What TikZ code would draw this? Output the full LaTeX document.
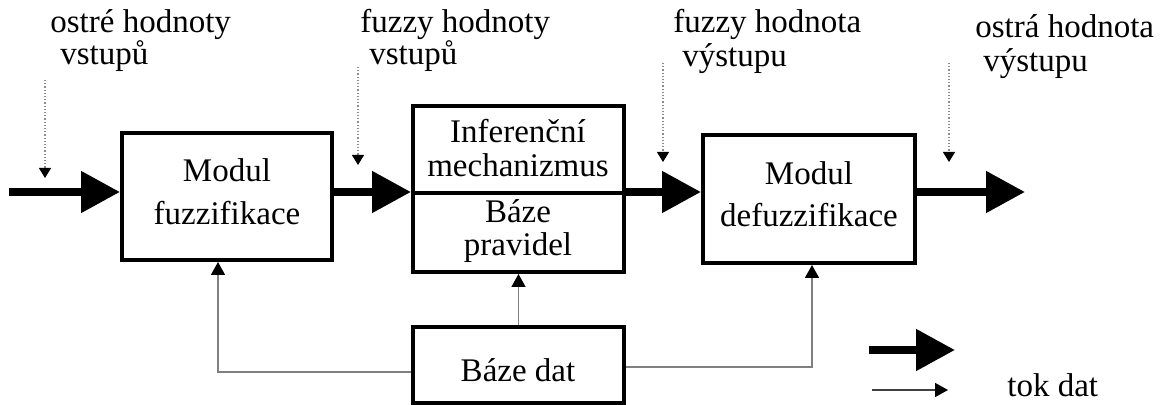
\documentclass[tikz,border=0pt]{standalone}
\usepackage{fontspec}
\setmainfont{Liberation Serif}
\usetikzlibrary{arrows.meta}
\begin{document}
\begin{tikzpicture}[x=0.5pt,y=-0.5pt,
  box/.style={draw, line width=2pt, inner sep=0pt},
  txt/.style={font=\fontsize{16.5}{19}\selectfont, inner sep=0pt, anchor=base},
  lbl/.style={font=\fontsize{16.5}{19}\selectfont, inner sep=0pt, anchor=base west},
  flow/.style={line width=4pt, -{Triangle[length=19.5pt,width=20pt]}},
  feed/.style={draw=black!50, line width=0.75pt, -{Triangle[length=6.5pt,width=7pt,color=black]}},
  hint/.style={draw=black!45, line width=0.6pt, dash pattern=on 0.6pt off 1pt,
               -{Triangle[length=5pt,width=6pt,color=black]}},
  legthin/.style={draw=black!75, line width=0.75pt, -{Triangle[length=6.5pt,width=7pt,color=black]}}
]
\useasboundingbox (0,0) rectangle (1175,405);

% processing blocks
\node[box, minimum width=105pt, minimum height=63.5pt] (fuz) at (227,196.5) {};
\node[box, minimum width=105.5pt, minimum height=43.5pt] (inf) at (518.5,149.5) {};
\node[box, minimum width=105.5pt, minimum height=39.5pt] (rules) at (518.5,232.5) {};
\node[box, minimum width=106pt, minimum height=64pt] (def) at (809,199) {};
\node[box, minimum width=105.5pt, minimum height=38pt] (db) at (518.5,365) {};

% block texts
\node[txt] (t1) at (227,182) {Modul};
\node[txt] (t2) at (227,225) {fuzzifikace};
\node[txt] (t3) at (518,143) {Inferenční};
\node[txt] (t4) at (518,177) {mechanizmus};
\node[txt] (t5) at (518,223) {Báze};
\node[txt] (t6) at (518,256) {pravidel};
\node[txt] (t7) at (809,185) {Modul};
\node[txt] (t8) at (809,227) {defuzzifikace};
\node[txt] (t9) at (518,382) {Báze dat};

% labels above the data path
\node[lbl] (l1) at (50,33) {ostré hodnoty};
\node[lbl] (l2) at (60,65) {vstupů};
\node[lbl] (l3) at (360,33) {fuzzy hodnoty};
\node[lbl] (l4) at (369,65) {vstupů};
\node[lbl] (l5) at (673,33) {fuzzy hodnota};
\node[lbl] (l6) at (682,67) {výstupu};
\node[lbl] (l7) at (975,38) {ostrá hodnota};
\node[lbl] (l8) at (983,72) {výstupu};

% main data flow
\coordinate (in) at (9,192);
\coordinate (out) at (1025,192);
\draw[flow] (in) -- (in -| fuz.west);
\draw[flow] (fuz.east |- in) -- (in -| inf.west);
\draw[flow] (inf.east |- in) -- (in -| def.west);
\draw[flow] (def.east |- in) -- (out);

% pointers from labels
\coordinate (p1a) at (45,80);   \coordinate (p1b) at (45,178);
\coordinate (p2a) at (358,67);  \coordinate (p2b) at (358,165);
\coordinate (p3a) at (663,63);  \coordinate (p3b) at (663,162);
\coordinate (p4a) at (949,63);  \coordinate (p4b) at (949,162);
\draw[hint] (p1a) -- (p1b);
\draw[hint] (p2a) -- (p2b);
\draw[hint] (p3a) -- (p3b);
\draw[hint] (p4a) -- (p4b);

% data base connections
\coordinate (dl) at (218,372);
\coordinate (dr) at (812,367);
\draw[feed] (db.west |- dl) -- (dl) -- (dl |- fuz.south);
\draw[feed] (db.north) -- (rules.south);
\draw[feed] (db.east |- dr) -- (dr) -- (dr |- def.south);

% legend
\coordinate (ga) at (869,350); \coordinate (gb) at (955,350);
\coordinate (gc) at (872,390); \coordinate (gd) at (948,390);
\draw[flow] (ga) -- (gb);
\draw[legthin] (gc) -- (gd);
\node[lbl] (leg) at (1007,397) {tok dat};
\end{tikzpicture}
\end{document}
